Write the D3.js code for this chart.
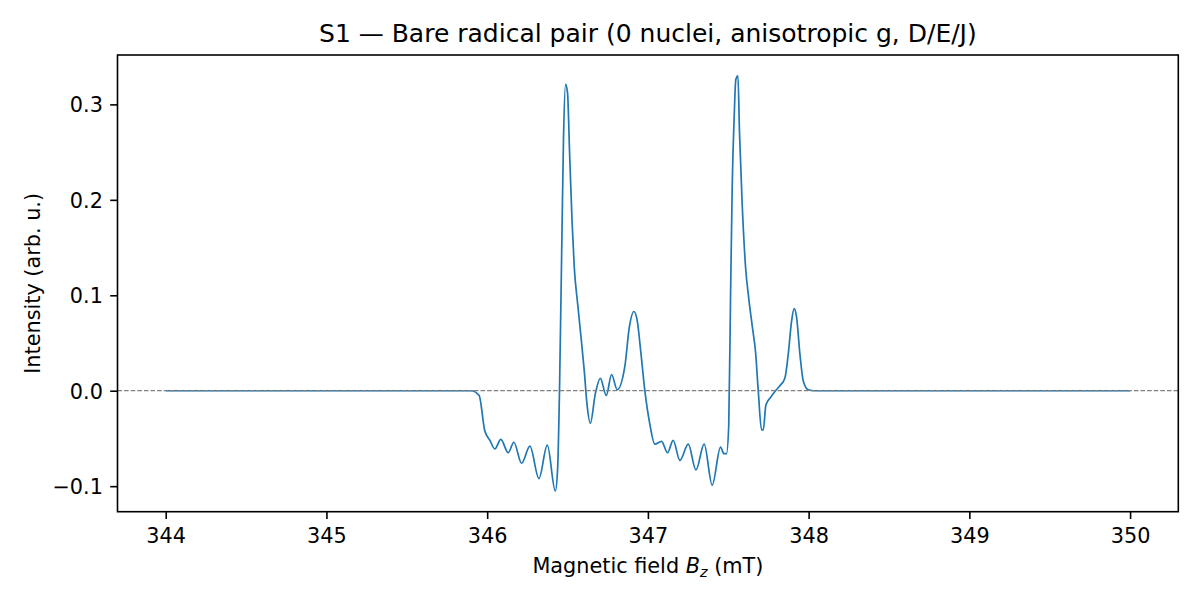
<!DOCTYPE html>
<html>
<head>
<meta charset="utf-8">
<script src="https://cdn.jsdelivr.net/npm/d3@7"></script>
<style>
  body { margin: 0; background: #fff; }
  svg { display: block; }
</style>
</head>
<body>
<div id="chart"></div>
<script>
const WIDTH = 1200;
const HEIGHT = 600;
const MARGIN = {
  top: 55,
  left: 117.5,
  right: 21.7,
  bottom: 88.3,
};

// spectrum (field in mT, intensity arb. u.)
const fieldValues = [
  344.00, 345.90, 345.95, 345.985, 346.017, 346.048, 346.085, 346.131, 346.166, 346.214,
  346.266, 346.322, 346.374, 346.424, 346.438, 346.450, 346.465, 346.475, 346.488, 346.500,
  346.513, 346.528, 346.542, 346.563, 346.584, 346.604, 346.621, 346.642, 346.673, 346.704,
  346.741, 346.774, 346.809, 346.857, 346.884, 346.913, 346.934, 346.955, 346.981, 347.012,
  347.043, 347.085, 347.122, 347.157, 347.199, 347.251, 347.299, 347.350, 347.400, 347.452,
  347.473, 347.489, 347.503, 347.514, 347.525, 347.537, 347.547, 347.560, 347.570, 347.587,
  347.607, 347.628, 347.649, 347.670, 347.687, 347.707, 347.718, 347.734, 347.763, 347.794,
  347.825, 347.852, 347.873, 347.894, 347.910, 347.925, 347.946, 347.967, 347.998, 348.04,
  350.00
];
const intensityValues = [
  0, 0, -0.005, -0.042, -0.052, -0.061, -0.051, -0.065, -0.054, -0.076,
  -0.058, -0.092, -0.057, -0.105, -0.083, 0.000, 0.161, 0.265, 0.321, 0.312,
  0.248, 0.178, 0.129, 0.091, 0.056, 0.021, -0.014, -0.034, -0.003, 0.013,
  -0.005, 0.017, 0.001, 0.026, 0.066, 0.083, 0.073, 0.042, 0.000, -0.035,
  -0.056, -0.053, -0.065, -0.052, -0.073, -0.056, -0.083, -0.056, -0.099, -0.059,
  -0.066, -0.066, -0.036, 0.096, 0.218, 0.288, 0.326, 0.330, 0.270, 0.194,
  0.131, 0.096, 0.068, 0.040, -0.001, -0.041, -0.041, -0.015, -0.007, 0.000,
  0.006, 0.013, 0.038, 0.073, 0.086, 0.077, 0.038, 0.010, 0.001, 0,
  0
];
const xTickValues = [344, 345, 346, 347, 348, 349, 350];
const yTickValues = [-0.1, 0.0, 0.1, 0.2, 0.3];

const TITLE = "S1 \u2014 Bare radical pair (0 nuclei, anisotropic g, D/E/J)";
const FONT = "'DejaVu Sans', sans-serif";
const LABEL_SIZE = 20.8;
const TICK_LEN = 7.3;

const data = fieldValues.map((f, i) => ({ B: f, I: intensityValues[i] }));

const innerW = WIDTH - MARGIN.left - MARGIN.right;
const innerH = HEIGHT - MARGIN.top - MARGIN.bottom;

// matplotlib style 5% padding
const xExt = d3.extent(fieldValues);
const yExt = d3.extent(intensityValues);
const xPad = (xExt[1] - xExt[0]) * 0.05;
const yPad = (yExt[1] - yExt[0]) * 0.05;

const x = d3.scaleLinear()
  .domain([xExt[0] - xPad, xExt[1] + xPad])
  .range([0, innerW]);

const y = d3.scaleLinear()
  .domain([yExt[0] - yPad, yExt[1] + yPad])
  .range([innerH, 0]);

const svg = d3.select("#chart").append("svg")
  .attr("width", WIDTH)
  .attr("height", HEIGHT)
  .style("background-color", "#fff");

const plot = svg.append("g")
  .attr("transform", `translate(${MARGIN.left}, ${MARGIN.top})`);

const line = d3.line()
  .x(d => x(d.B))
  .y(d => y(d.I))
  .curve(d3.curveMonotoneX);

plot.append("path")
  .datum(data)
  .attr("fill", "none")
  .attr("stroke", "#1f77b4")
  .attr("stroke-width", 1.7)
  .attr("stroke-linejoin", "round")
  .attr("d", line);

// zero line
plot.append("line")
  .attr("x1", 0)
  .attr("x2", innerW)
  .attr("y1", y(0))
  .attr("y2", y(0))
  .attr("stroke", "#808080")
  .attr("stroke-width", 1.2)
  .attr("stroke-dasharray", "4.6,2");

// axes
const xAxis = d3.axisBottom(x)
  .tickValues(xTickValues)
  .tickFormat(d3.format("d"))
  .tickSize(TICK_LEN)
  .tickPadding(7.3);

const yAxis = d3.axisLeft(y)
  .tickValues(yTickValues)
  .tickFormat(d3.format(".1f"))
  .tickSize(TICK_LEN)
  .tickPadding(7.3);

const gx = plot.append("g")
  .attr("transform", `translate(0, ${innerH})`)
  .call(xAxis);

const gy = plot.append("g")
  .call(yAxis);

[gx, gy].forEach(g => {
  g.select(".domain").remove();
  g.selectAll(".tick line")
    .attr("stroke", "#000")
    .attr("stroke-width", 1.6);
  g.selectAll(".tick text")
    .attr("fill", "#000")
    .attr("font-family", FONT)
    .attr("font-size", LABEL_SIZE);
});

gx.selectAll(".tick text").attr("dy", "0.8em");
gy.selectAll(".tick text").attr("dy", "0.36em");

// frame
plot.append("rect")
  .attr("x", 0)
  .attr("y", 0)
  .attr("width", innerW)
  .attr("height", innerH)
  .attr("fill", "none")
  .attr("stroke", "#000")
  .attr("stroke-width", 1.6);

// title
svg.append("text")
  .attr("x", MARGIN.left + innerW / 2)
  .attr("y", 42)
  .attr("text-anchor", "middle")
  .attr("font-family", FONT)
  .attr("font-size", 25)
  .attr("fill", "#000")
  .text(TITLE);

// x label
const xl = svg.append("text")
  .attr("x", MARGIN.left + innerW / 2)
  .attr("y", 572.5)
  .attr("text-anchor", "middle")
  .attr("font-family", FONT)
  .attr("font-size", LABEL_SIZE)
  .attr("fill", "#000");
xl.append("tspan").text("Magnetic field ");
xl.append("tspan").attr("font-style", "italic").text("B");
xl.append("tspan").attr("font-style", "italic").attr("font-size", 14.5).attr("dy", 4).text("z");
xl.append("tspan").attr("dy", -4).text(" (mT)");

// y label
svg.append("text")
  .attr("transform", `translate(40, ${MARGIN.top + innerH / 2}) rotate(-90)`)
  .attr("text-anchor", "middle")
  .attr("font-family", FONT)
  .attr("font-size", LABEL_SIZE)
  .attr("fill", "#000")
  .text("Intensity (arb. u.)");
</script>
</body>
</html>
